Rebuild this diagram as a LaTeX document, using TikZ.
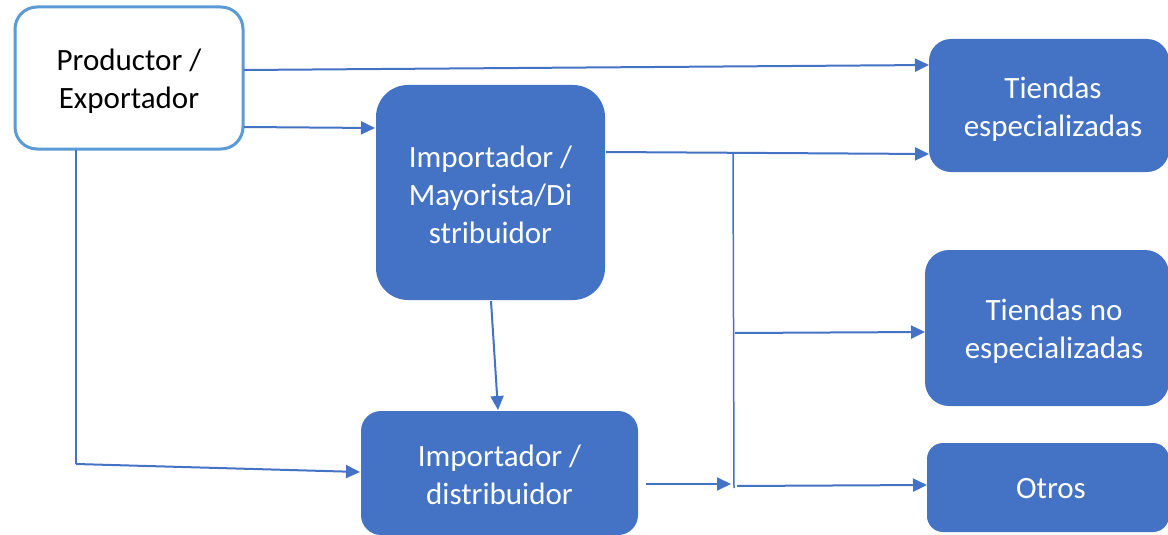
\documentclass[tikz,border=0pt]{standalone}
\usepackage{fontspec}
\setmainfont{Carlito}
\usetikzlibrary{arrows.meta}
\definecolor{boxblue}{HTML}{4472C4}
\definecolor{lightblue}{HTML}{5B9BD5}
\begin{document}
\begin{tikzpicture}[x=1pt,y=-1pt,
  txt/.style={font=\fontsize{31}{38}\selectfont, align=center, inner sep=0pt},
  bluebox/.style={fill=boxblue, draw=none, inner sep=0pt},
  whitebox/.style={fill=white, draw=lightblue, line width=3pt, inner sep=0pt},
  wtxt/.style={txt, text=white},
  btxt/.style={txt, text=black},
  arr/.style={draw=boxblue, line width=2pt, -{Triangle[length=14pt,width=13pt]}},
  ln/.style={draw=boxblue, line width=1.5pt}]
\useasboundingbox (0,0) rectangle (1168,535);
% boxes
\node[whitebox, rounded corners=22pt, minimum width=228pt, minimum height=142pt,
  label={[btxt,yshift=-3pt]center:{Productor /\\Exportador}}] (prod) at (129,78) {};
\node[bluebox, rounded corners=32pt, minimum width=229pt, minimum height=215pt,
  label={[wtxt,yshift=-2pt]center:{Importador /\\Mayorista/Di\\stribuidor}}] (may) at (490.5,192.5) {};
\node[bluebox, rounded corners=20pt, minimum width=277pt, minimum height=124pt,
  label={[wtxt,yshift=-1.5pt]center:{Importador /\\distribuidor}}] (dist) at (499.5,473) {};
\node[bluebox, rounded corners=22pt, minimum width=240pt, minimum height=133pt,
  label={[wtxt,yshift=-3.5pt,xshift=4pt]center:{Tiendas\\especializadas}}] (te) at (1049,105.5) {};
\node[bluebox, rounded corners=24pt, minimum width=244pt, minimum height=156pt,
  label={[wtxt,yshift=-3.5pt,xshift=7pt]center:{Tiendas no\\especializadas}}] (tne) at (1047,328) {};
\node[bluebox, rounded corners=16pt, minimum width=242pt, minimum height=89pt,
  label={[wtxt,yshift=-1pt,xshift=3pt]center:{Otros}}] (otros) at (1048,487.5) {};
% helper coordinates
\coordinate (p1) at (244,70);
\coordinate (t1) at (929,65);
\coordinate (p2) at (244,127);
\coordinate (m2) at (375,128);
\coordinate (m3) at (606,152);
\coordinate (t3) at (929,154);
\coordinate (vtop) at (733,152);
\coordinate (vbot) at (734,488);
\coordinate (n1) at (735,333);
\coordinate (n2) at (925,332);
\coordinate (d1) at (646,484);
\coordinate (d2) at (731,484);
\coordinate (o1) at (737,486);
\coordinate (o2) at (927,485);
\coordinate (pb) at (76,150);
\coordinate (pc) at (76,464);
\coordinate (dl) at (360,472);
\coordinate (mb) at (491,301);
\coordinate (dt) at (498,410);
% connectors
\draw[arr] (p1) -- (t1);
\draw[arr] (p2) -- (m2);
\draw[arr] (m3) -- (t3);
\draw[ln] (vtop) -- (vbot);
\draw[arr] (n1) -- (n2);
\draw[arr] (d1) -- (d2);
\draw[arr] (o1) -- (o2);
\draw[ln] (pb) -- (pc);
\draw[arr] (pc) -- (dl);
\draw[arr] (mb) -- (dt);
\end{tikzpicture}
\end{document}
